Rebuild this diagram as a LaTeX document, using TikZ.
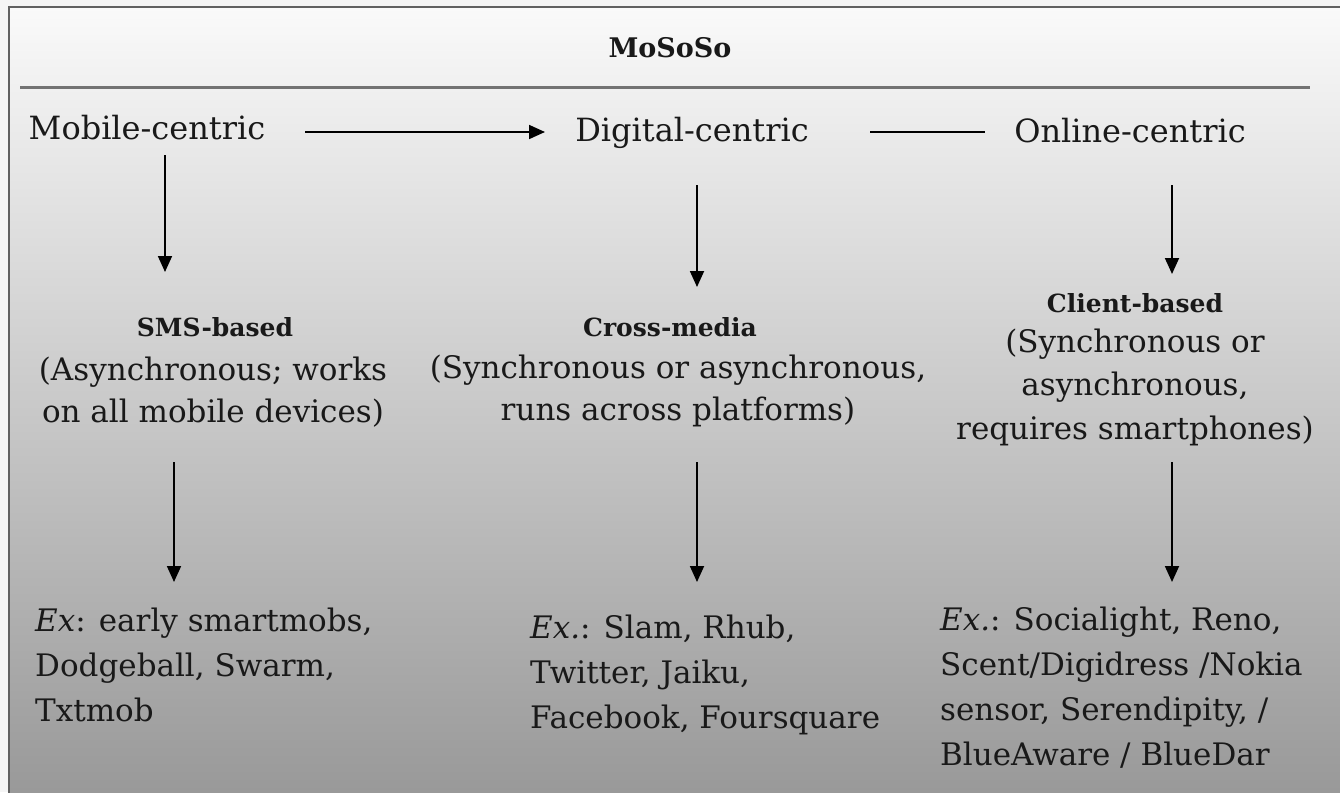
\documentclass[tikz,border=0pt]{standalone}
\usepackage{fontspec}
\setmainfont{DejaVu Serif}
\usetikzlibrary{arrows.meta}
\begin{document}
\begin{tikzpicture}[x=1pt,y=-1pt,
  lbl/.style={font=\fontsize{31}{42}\selectfont, inner sep=0pt, align=center, text=black!90},
  toplbl/.style={font=\fontsize{32}{42}\selectfont, inner sep=0pt, text=black!90},
  head/.style={font=\fontsize{25}{30}\selectfont\bfseries, inner sep=0pt, text=black!90},
  ex/.style={font=\fontsize{31}{45}\selectfont, inner sep=0pt, align=left, anchor=west, text=black!90},
  arr/.style={line width=1.8pt, -{Triangle[length=16pt,width=14pt]}},
  plain/.style={line width=1.8pt}]
\useasboundingbox (0,0) rectangle (1340,792);
\fill[black!4] (0,0) rectangle (1340,792);
\shade[top color=black!2, bottom color=black!40] (9,7) rectangle (1340,792);
\draw[line width=2pt, black!62] (9,800) -- (9,7) -- (1345,7);
% title
\node[head, font=\fontsize{27}{30}\selectfont\bfseries] (title) at (670,48) {MoSoSo};
\coordinate (ruleL) at (20,87);
\coordinate (ruleR) at (1310,87);
\draw[line width=3pt, black!55] (ruleL) -- (ruleR);
% top row
\node[toplbl] (mob) at (147,128) {Mobile-centric};
\node[toplbl] (dig) at (692,133) {Digital-centric};
\node[toplbl] (onl) at (1130,131) {Online-centric};
\coordinate (a1) at (305,132);
\coordinate (a2) at (545,132);
\draw[arr] (a1) -- (a2);
\coordinate (l1) at (870,132);
\coordinate (l2) at (985,132);
\draw[plain] (l1) -- (l2);
% middle row
\node[head] (sms) at (215,327) {SMS-based};
\node[lbl] (smsd) at (213,392) {(Asynchronous; works\\on all mobile devices)};
\node[head] (cross) at (670,327) {Cross-media};
\node[lbl] (crossd) at (678,391) {(Synchronous or asynchronous,\\runs across platforms)};
\node[head] (client) at (1135,303) {Client-based};
\node[lbl, font=\fontsize{31}{43.5}\selectfont] (clientd) at (1135,387) {(Synchronous or\\asynchronous,\\requires smartphones)};
% arrows top -> middle
\coordinate (b1s) at (165,155); \coordinate (b1e) at (165,272);
\coordinate (b2s) at (697,185); \coordinate (b2e) at (697,287);
\coordinate (b3s) at (1172,185); \coordinate (b3e) at (1172,274);
\draw[arr] (b1s) -- (b1e);
\draw[arr] (b2s) -- (b2e);
\draw[arr] (b3s) -- (b3e);
% arrows middle -> bottom
\coordinate (c1s) at (174,462); \coordinate (c1e) at (174,582);
\coordinate (c2s) at (697,462); \coordinate (c2e) at (697,582);
\coordinate (c3s) at (1172,462); \coordinate (c3e) at (1172,582);
\draw[arr] (c1s) -- (c1e);
\draw[arr] (c2s) -- (c2e);
\draw[arr] (c3s) -- (c3e);
% examples
\node[ex] (ex1) at (35,665) {\textit{Ex}: early smartmobs,\\Dodgeball, Swarm,\\Txtmob};
\node[ex] (ex2) at (530,675) {\textit{Ex.}: Slam, Rhub,\\Twitter, Jaiku,\\Facebook, Foursquare};
\node[ex] (ex3) at (940,688) {\textit{Ex.}: Socialight, Reno,\\Scent/Digidress /Nokia\\sensor, Serendipity, /\\BlueAware / BlueDar};
\end{tikzpicture}
\end{document}
